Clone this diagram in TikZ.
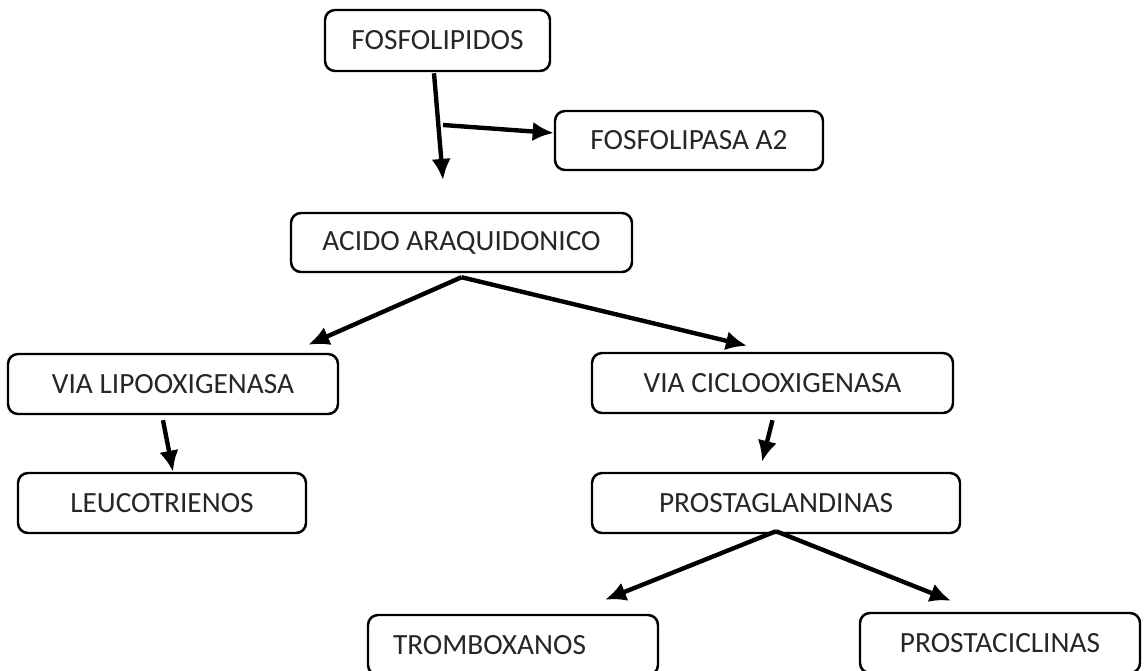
\documentclass[tikz,border=0pt]{standalone}
\usepackage{fontspec}
\setmainfont{Carlito}
\usepackage{tikz}
\usetikzlibrary{arrows.meta}

\begin{document}
\begin{tikzpicture}[
    box/.style={draw, line width=1.4pt, rounded corners=0.2cm, minimum height=1.2cm,
                inner sep=0pt, text=black!85, font=\fontsize{16.7}{20}\selectfont},
    conn/.style={-{Latex[length=12pt, width=11pt]}, line width=2.5pt}
  ]
    % --- Page ---
    \useasboundingbox (0,0) rectangle (22.94,-13.42);

    % --- Boxes ---
    \node[box, minimum width=4.5cm, minimum height=1.22cm] (fosfolipidos) at (8.75,-0.81) {FOSFOLIPIDOS};
    \node[box, minimum width=5.36cm, minimum height=1.18cm] (fosfolipasa) at (13.78,-2.81) {FOSFOLIPASA A2};
    \node[box, minimum width=6.82cm, minimum height=1.18cm] (acido) at (9.23,-4.85) {ACIDO ARAQUIDONICO};
    \node[box, minimum width=6.6cm] (lipo) at (3.46,-7.68) {VIA LIPOOXIGENASA};
    \node[box, minimum width=7.22cm] (ciclo) at (15.45,-7.66) {VIA CICLOOXIGENASA};
    \node[box, minimum width=5.76cm] (leuco) at (3.24,-10.06) {LEUCOTRIENOS};
    \node[box, minimum width=7.36cm] (prosta) at (15.52,-10.06) {PROSTAGLANDINAS};
    \node[box, text width=4.8cm, align=left, inner xsep=0.5cm] (trombo) at (10.26,-12.9) {TROMBOXANOS};
    \node[box, minimum width=5.6cm] (prostac) at (20.0,-12.86) {PROSTACICLINAS};

    % --- Free ends ---
    \coordinate (fosfoEnd) at (8.86,-3.6);
    \coordinate (split) at (8.86,-2.5);

    % --- Arrows ---
    \draw[conn] ([xshift=-0.07cm, yshift=-0.02cm]fosfolipidos.south) -- (fosfoEnd);
    \draw[conn] (split) -- ([yshift=0.15cm]fosfolipasa.west);

    \draw[conn] ([yshift=-0.08cm]acido.south) -- ([xshift=-0.62cm, yshift=0.16cm]lipo.north east);
    \draw[conn] ([yshift=-0.08cm]acido.south) -- ([xshift=-0.51cm, yshift=0.12cm]ciclo.north);

    \draw[conn] ([xshift=-0.2cm, yshift=-0.1cm]lipo.south) -- ([xshift=0.22cm]leuco.north);
    \draw[conn] ([yshift=-0.12cm]ciclo.south) -- ([xshift=-0.28cm, yshift=0.2cm]prosta.north);

    \draw[conn] ([yshift=0.06cm]prosta.south) -- ([xshift=1.84cm, yshift=0.28cm]trombo.north);
    \draw[conn] ([yshift=0.06cm]prosta.south) -- ([xshift=-0.98cm, yshift=0.22cm]prostac.north);

\end{tikzpicture}
\end{document}
